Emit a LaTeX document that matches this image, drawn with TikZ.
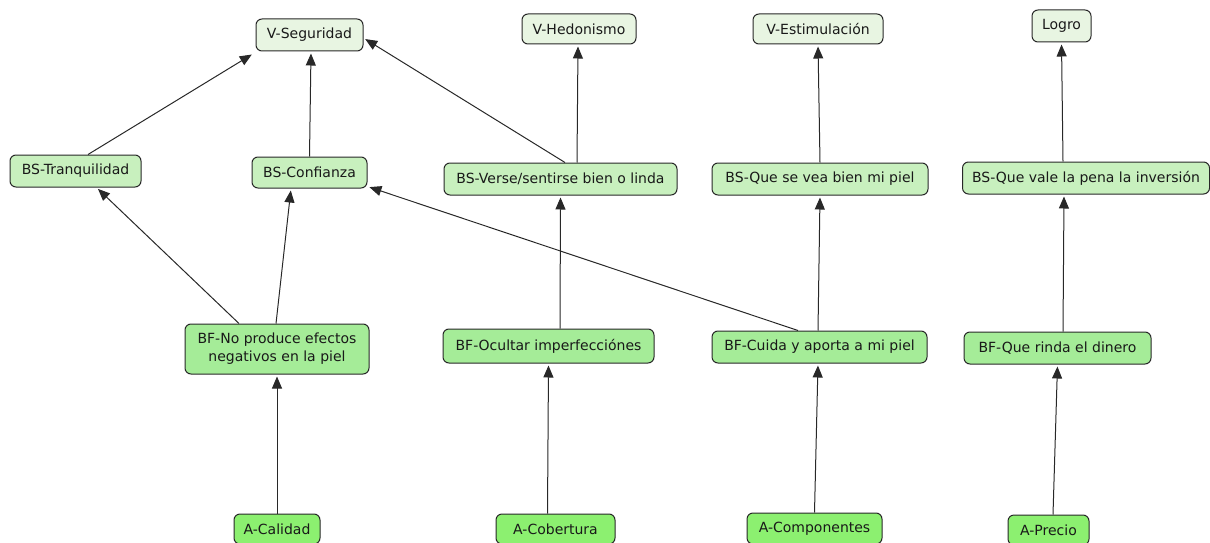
\documentclass[tikz,border=0pt]{standalone}
\usepackage{fontspec}
\setmainfont{DejaVu Sans}
\usetikzlibrary{arrows.meta}
\definecolor{vfill}{RGB}{232,245,226}
\definecolor{bsfill}{RGB}{200,240,190}
\definecolor{bffill}{RGB}{165,236,152}
\definecolor{afill}{RGB}{140,240,112}
\definecolor{edgec}{RGB}{40,40,40}
\definecolor{txt}{RGB}{25,25,25}
\tikzset{
  box/.style={draw=edgec, line width=1pt, rounded corners=6pt, inner sep=2pt,
    align=center, text=txt, font=\fontsize{14}{18}\selectfont},
  vbox/.style={box, fill=vfill},
  bsbox/.style={box, fill=bsfill},
  bfbox/.style={box, fill=bffill},
  abox/.style={box, fill=afill},
  link/.style={draw=edgec, line width=1pt, -{Triangle[length=12pt,width=10pt]}, shorten >=2pt}
}
\begin{document}
\begin{tikzpicture}[x=1pt,y=-1pt]
\useasboundingbox (0,0) rectangle (1210,543);
% values
\node[vbox, minimum width=107pt, minimum height=32pt] (vseg) at (309.5,35) {V-Seguridad};
\node[vbox, minimum width=114pt, minimum height=30pt] (vhed) at (579,29) {V-Hedonismo};
\node[vbox, minimum width=130pt, minimum height=30pt] (vest) at (818,29) {V-Estimulación};
\node[vbox, minimum width=59pt, minimum height=32pt] (logro) at (1061.5,26) {Logro};
% BS
\node[bsbox, minimum width=131pt, minimum height=32pt] (bstran) at (75.5,171) {BS-Tranquilidad};
\node[bsbox, minimum width=115pt, minimum height=31pt] (bsconf) at (309.5,172.5) {BS-Confianza};
\node[bsbox, minimum width=233pt, minimum height=32pt] (bsverse) at (560.5,179) {BS-Verse/sentirse bien o linda};
\node[bsbox, minimum width=216pt, minimum height=32pt] (bsvea) at (820,179) {BS-Que se vea bien mi piel};
\node[bsbox, minimum width=247pt, minimum height=32pt] (bsvale) at (1086,178) {BS-Que vale la pena la inversión};
% BF
\node[bfbox, minimum width=184pt, minimum height=50pt] (bfno) at (277,349) {BF-No produce efectos\\ negativos en la piel};
\node[bfbox, minimum width=211pt, minimum height=34pt] (bfoc) at (548.5,346) {BF-Ocultar imperfecciónes};
\node[bfbox, minimum width=215pt, minimum height=32pt] (bfcuida) at (819.5,347) {BF-Cuida y aporta a mi piel};
\node[bfbox, minimum width=187pt, minimum height=32pt] (bfrinda) at (1057.5,348) {BF-Que rinda el dinero};
% A
\node[abox, minimum width=86pt, minimum height=30pt] (acal) at (277,529) {A-Calidad};
\node[abox, minimum width=119pt, minimum height=30pt] (acob) at (555.5,529) {A-Cobertura};
\node[abox, minimum width=135pt, minimum height=31pt] (acomp) at (814.5,528.5) {A-Componentes};
\node[abox, minimum width=81pt, minimum height=30pt] (aprec) at (1048.5,530) {A-Precio};
% A -> BF
\draw[link] (acal.north) -- (bfno.south);
\draw[link] ([xshift=-8pt]acob.north) -- (bfoc.south);
\draw[link] (acomp.north) -- ([xshift=-1.5pt]bfcuida.south);
\draw[link] ([xshift=4.5pt]aprec.north) -- (bfrinda.south);
% BF -> BS
\draw[link] ([xshift=-38pt]bfno.north) -- ([xshift=21pt]bstran.south);
\draw[link] ([xshift=-1pt]bfno.north) -- ([xshift=-18.5pt]bsconf.south);
\draw[link] ([xshift=11.5pt]bfoc.north) -- (bsverse.south);
\draw[link] ([xshift=-21.5pt]bfcuida.north) -- ([yshift=2pt]bsconf.south east);
\draw[link] ([xshift=-1.5pt]bfcuida.north) -- (bsvea.south);
\draw[link] ([xshift=5.5pt]bfrinda.north) -- ([xshift=-22pt]bsvale.south);
% BS -> V
\draw[link] ([xshift=12.5pt]bstran.north) -- ([xshift=-2pt,yshift=-2pt]vseg.south west);
\draw[link] (bsconf.north) -- ([xshift=1.5pt]vseg.south);
\draw[link] ([xshift=4.5pt]bsverse.north) -- ([yshift=-3pt]vseg.east);
\draw[link] ([xshift=16.5pt]bsverse.north) -- ([xshift=-1pt]vhed.south);
\draw[link] (bsvea.north) -- (vest.south);
\draw[link] ([xshift=-23pt]bsvale.north) -- (logro.south);
\end{tikzpicture}
\end{document}
